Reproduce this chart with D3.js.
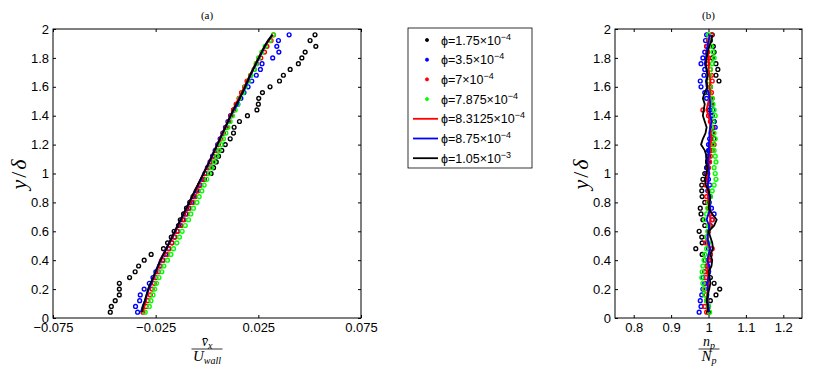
<!DOCTYPE html>
<html>
<head>
<meta charset="utf-8">
<script src="https://cdn.jsdelivr.net/npm/d3@7"></script>
<style>
  body { margin: 0; background: #fff; }
  svg { display: block; }
  .tick text { font-family: "Liberation Sans", Arial, sans-serif; font-size: 13px; fill: #000; }
  .tick line { stroke: #000; }
</style>
</head>
<body>
<div id="chart"></div>
<script>
// y/delta positions shared by every profile
var yPos = [0.04, 0.08, 0.12, 0.16, 0.20, 0.24, 0.28, 0.32, 0.36, 0.40,
  0.44, 0.48, 0.52, 0.56, 0.60, 0.64, 0.68, 0.72, 0.76, 0.80,
  0.84, 0.88, 0.92, 0.96, 1.00, 1.04, 1.08, 1.12, 1.16, 1.20,
  1.24, 1.28, 1.32, 1.36, 1.40, 1.44, 1.48, 1.52, 1.56, 1.60,
  1.64, 1.68, 1.72, 1.76, 1.80, 1.84, 1.88, 1.92, 1.96];

var seriesNames = ["1.75×10", "3.5×10", "7×10", "7.875×10", "8.3125×10", "8.75×10", "1.05×10"];
var seriesExp = ["−4", "−4", "−4", "−4", "−4", "−4", "−3"];
var seriesColors = ["#000000", "#0000ff", "#ff0000", "#00ff00", "#ff0000", "#0000ff", "#000000"];

// panel (a): mean velocity vx / Uwall
var velBlack = [-0.0471, -0.0466, -0.0447, -0.0427, -0.0427, -0.0427, -0.0377, -0.0350, -0.0333, -0.0306,
  -0.0272, -0.0212, -0.0192, -0.0174, -0.0160, -0.0139, -0.0130, -0.0114, -0.0100, -0.0084,
  -0.0068, -0.0052, -0.0036, -0.0012, 0.0020, 0.0032, 0.0045, 0.0056, 0.0072, 0.0089,
  0.0113, 0.0129, 0.0132, 0.0158, 0.0197, 0.0243, 0.0250, 0.0252, 0.0270, 0.0307,
  0.0353, 0.0372, 0.0405, 0.0445, 0.0462, 0.0478, 0.0530, 0.0502, 0.0526];
var velBlue = [-0.0338, -0.0348, -0.0328, -0.0325, -0.0306, -0.0281, -0.0263, -0.0249, -0.0231, -0.0216,
  -0.0202, -0.0187, -0.0171, -0.0158, -0.0145, -0.0130, -0.0117, -0.0103, -0.0090, -0.0075,
  -0.0062, -0.0049, -0.0036, -0.0022, -0.0010, 0.0002, 0.0015, 0.0027, 0.0040, 0.0052,
  0.0064, 0.0077, 0.0090, 0.0102, 0.0115, 0.0130, 0.0150, 0.0165, 0.0180, 0.0200,
  0.0218, 0.0240, 0.0260, 0.0268, 0.0320, 0.0350, 0.0340, 0.0348, 0.0400];
var velRed = [-0.0312, -0.0297, -0.0288, -0.0276, -0.0267, -0.0257, -0.0249, -0.0236, -0.0225, -0.0212,
  -0.0195, -0.0184, -0.0170, -0.0156, -0.0142, -0.0126, -0.0111, -0.0098, -0.0085, -0.0069,
  -0.0057, -0.0043, -0.0030, -0.0014, -0.0004, 0.0010, 0.0022, 0.0032, 0.0045, 0.0056,
  0.0068, 0.0080, 0.0094, 0.0107, 0.0118, 0.0129, 0.0142, 0.0156, 0.0168, 0.0183,
  0.0195, 0.0212, 0.0230, 0.0241, 0.0262, 0.0280, 0.0292, 0.0312, 0.0324];
var velGreen = [-0.0301, -0.0281, -0.0273, -0.0263, -0.0255, -0.0246, -0.0234, -0.0220, -0.0210, -0.0192,
  -0.0176, -0.0163, -0.0147, -0.0134, -0.0121, -0.0106, -0.0090, -0.0079, -0.0066, -0.0049,
  -0.0038, -0.0025, -0.0014, -0.0001, 0.0011, 0.0022, 0.0035, 0.0048, 0.0059, 0.0069,
  0.0080, 0.0092, 0.0102, 0.0113, 0.0124, 0.0137, 0.0149, 0.0158, 0.0175, 0.0186,
  0.0202, 0.0214, 0.0230, 0.0239, 0.0251, 0.0267, 0.0283, 0.0307, 0.0323];
var velLineRed = [-0.0312, -0.0305, -0.0298, -0.0292, -0.0283, -0.0272, -0.0260, -0.0250, -0.0236, -0.0230,
  -0.0214, -0.0198, -0.0185, -0.0171, -0.0157, -0.0143, -0.0129, -0.0115, -0.0101, -0.0087,
  -0.0074, -0.0060, -0.0046, -0.0032, -0.0018, -0.0004, 0.0010, 0.0023, 0.0036, 0.0049,
  0.0062, 0.0075, 0.0088, 0.0101, 0.0114, 0.0127, 0.0140, 0.0154, 0.0168, 0.0182,
  0.0195, 0.0209, 0.0223, 0.0236, 0.0250, 0.0265, 0.0282, 0.0302, 0.0322];
var velLineBlue = [-0.0322, -0.0314, -0.0302, -0.0294, -0.0284, -0.0270, -0.0262, -0.0252, -0.0240, -0.0227,
  -0.0213, -0.0199, -0.0185, -0.0171, -0.0157, -0.0143, -0.0129, -0.0115, -0.0101, -0.0087,
  -0.0073, -0.0059, -0.0045, -0.0031, -0.0017, -0.0003, 0.0011, 0.0024, 0.0037, 0.0050,
  0.0063, 0.0076, 0.0090, 0.0103, 0.0116, 0.0131, 0.0150, 0.0158, 0.0174, 0.0188,
  0.0200, 0.0212, 0.0226, 0.0240, 0.0254, 0.0268, 0.0282, 0.0298, 0.0318];
var velLineBlack = [-0.0317, -0.0312, -0.0303, -0.0295, -0.0287, -0.0276, -0.0262, -0.0250, -0.0238, -0.0226,
  -0.0212, -0.0197, -0.0184, -0.0170, -0.0156, -0.0142, -0.0128, -0.0114, -0.0100, -0.0086,
  -0.0073, -0.0059, -0.0045, -0.0031, -0.0017, -0.0003, 0.0011, 0.0024, 0.0037, 0.0050,
  0.0063, 0.0076, 0.0089, 0.0102, 0.0115, 0.0128, 0.0142, 0.0160, 0.0172, 0.0185,
  0.0197, 0.0210, 0.0224, 0.0238, 0.0252, 0.0266, 0.0280, 0.0297, 0.0318];

// panel (b): particle number density np / Np
var numBlack = [1.000, 1.000, 1.005, 1.020, 1.030, 1.015, 1.005, 1.000, 0.995, 0.990,
  0.983, 0.966, 0.983, 0.982, 0.975, 0.990, 0.985, 0.980, 0.978, 0.990,
  0.983, 0.982, 0.982, 0.985, 0.990, 0.995, 0.998, 1.000, 1.003, 1.008,
  1.015, 1.010, 1.012, 1.015, 1.010, 1.003, 1.010, 1.005, 1.000, 1.005,
  1.028, 1.020, 1.025, 1.020, 1.010, 1.015, 1.013, 1.005, 1.010];
var numBlue = [0.975, 0.980, 0.978, 0.982, 0.985, 0.990, 0.985, 0.990, 0.998, 1.002,
  1.005, 1.000, 0.997, 0.995, 1.000, 1.005, 1.010, 1.015, 1.008, 1.002,
  1.005, 0.998, 1.003, 1.000, 0.995, 0.997, 1.000, 0.998, 1.000, 1.000,
  1.003, 1.010, 1.018, 1.015, 1.008, 1.012, 1.005, 0.995, 0.990, 0.980,
  0.978, 0.988, 0.990, 0.980, 0.985, 0.990, 0.995, 0.992, 0.995];
var numRed = [0.995, 0.990, 0.995, 0.993, 0.990, 0.995, 0.993, 0.990, 0.995, 1.000,
  1.005, 1.010, 0.992, 0.995, 1.000, 1.005, 1.010, 1.005, 1.000, 0.998,
  0.995, 1.000, 0.993, 0.995, 0.998, 1.000, 1.003, 1.005, 1.010, 1.015,
  1.008, 1.012, 1.010, 1.005, 1.000, 0.985, 1.005, 1.010, 1.008, 1.005,
  1.010, 1.008, 1.005, 0.995, 1.000, 0.998, 0.995, 1.000, 1.008];
var numGreen = [1.003, 1.000, 0.995, 0.990, 0.988, 0.985, 0.982, 0.983, 0.985, 0.988,
  0.990, 0.995, 1.000, 0.995, 0.998, 1.000, 0.990, 0.995, 0.998, 1.000,
  1.005, 1.010, 1.015, 1.020, 1.018, 1.015, 1.020, 1.018, 1.015, 1.012,
  1.018, 1.015, 1.008, 1.012, 1.018, 1.015, 1.012, 1.010, 1.003, 1.005,
  1.000, 1.003, 1.005, 1.010, 1.015, 1.012, 1.008, 1.003, 1.000];
var numLineRed = [0.998, 0.997, 0.998, 0.997, 0.998, 1.000, 0.998, 0.997, 0.998, 1.000,
  1.002, 1.003, 0.997, 0.998, 1.000, 1.003, 1.005, 1.003, 1.002, 1.000,
  0.998, 1.000, 0.998, 0.997, 0.998, 1.000, 1.000, 1.002, 1.003, 1.005,
  1.008, 1.005, 1.005, 1.003, 1.000, 0.995, 0.998, 1.002, 1.005, 1.003,
  1.005, 1.003, 1.000, 1.002, 1.000, 0.998, 1.000, 1.000, 1.003];
var numLineBlue = [1.002, 1.000, 0.997, 1.000, 0.998, 0.997, 1.000, 1.005, 1.002, 0.997,
  1.000, 1.005, 1.000, 0.997, 1.000, 1.002, 0.995, 1.000, 1.005, 1.003,
  1.002, 1.000, 0.998, 1.000, 1.002, 1.000, 0.998, 1.000, 1.002, 1.000,
  1.003, 1.002, 1.005, 1.008, 1.005, 1.003, 1.005, 1.003, 1.000, 0.995,
  0.993, 0.997, 0.995, 0.990, 0.993, 0.995, 0.997, 1.000, 1.005];
var numLineBlack = [0.998, 0.998, 0.995, 0.998, 1.002, 1.005, 1.003, 1.000, 1.008, 1.010,
  1.005, 1.012, 1.010, 1.005, 1.000, 1.015, 1.022, 1.010, 1.000, 1.003,
  1.005, 1.000, 0.993, 0.990, 0.995, 0.997, 0.993, 0.995, 0.990, 0.980,
  0.985, 0.992, 0.995, 0.990, 0.985, 0.987, 0.990, 0.985, 0.990, 0.997,
  0.995, 0.998, 0.995, 0.993, 0.995, 0.998, 1.002, 1.008, 1.010];

var yTicks = [0, 0.2, 0.4, 0.6, 0.8, 1, 1.2, 1.4, 1.6, 1.8, 2];
var velTicks = [-0.075, -0.025, 0.025, 0.075];
var velTickLabels = ["−0.075", "−0.025", "0.025", "0.075"];
var numTicks = [0.8, 0.9, 1, 1.1, 1.2];
var numTickLabels = ["0.8", "0.9", "1", "1.1", "1.2"];

var width = 830;
var height = 372;

var svg = d3.select("#chart").
append("svg").
attr("width", width).
attr("height", height);

var serif = "\"Liberation Serif\", \"Times New Roman\", serif";

function makePanel(left, right, xDomain, xTicks, xLabels, title) {
  var top = 29;
  var bottom = 318;
  var x = d3.scaleLinear().domain(xDomain).range([left, right]);
  var y = d3.scaleLinear().domain([0, 2]).range([bottom, top]);

  svg.append("g").
  attr("transform", "translate(0," + bottom + ")").
  call(d3.axisBottom(x).tickValues(xTicks).tickSizeInner(-3).tickSizeOuter(0).tickPadding(5).
  tickFormat(function (d, i) {return xLabels[i];}));

  svg.append("g").
  attr("transform", "translate(0," + top + ")").
  call(d3.axisTop(x).tickValues(xTicks).tickSizeInner(-3).tickSizeOuter(0).tickFormat(""));

  svg.append("g").
  attr("transform", "translate(" + left + ",0)").
  call(d3.axisLeft(y).tickValues(yTicks).tickSizeInner(-3).tickSizeOuter(0).tickPadding(4).
  tickFormat(d3.format("~g")));

  svg.append("g").
  attr("transform", "translate(" + right + ",0)").
  call(d3.axisRight(y).tickValues(yTicks).tickSizeInner(-3).tickSizeOuter(0).tickFormat(""));

  svg.selectAll(".domain").remove();

  svg.append("rect").
  attr("x", left).
  attr("y", top).
  attr("width", right - left).
  attr("height", bottom - top).
  attr("fill", "none").
  attr("stroke", "#000").
  attr("stroke-width", 1);

  svg.append("text").
  text(title).
  attr("x", (left + right) / 2).
  attr("y", 19).
  attr("text-anchor", "middle").
  attr("font-family", serif).
  attr("font-size", 11);

  var yl = svg.append("text").
  attr("transform", "translate(" + (left - 27) + "," + ((top + bottom) / 2) + ") rotate(-90)").
  attr("text-anchor", "middle").
  attr("font-family", serif).
  attr("font-style", "italic").
  attr("font-size", 22).
  attr("letter-spacing", 2);
  yl.append("tspan").text("y");
  yl.append("tspan").text("/").attr("font-style", "normal");
  yl.append("tspan").text("δ");

  return {x: x, y: y};
}

function drawDots(p, values, color) {
  svg.append("g").
  selectAll("circle").
  data(values).
  enter().
  append("circle").
  attr("cx", function (d) {return p.x(d);}).
  attr("cy", function (d, i) {return p.y(yPos[i]);}).
  attr("r", 1.9).
  attr("fill", "none").
  attr("stroke", color).
  attr("stroke-width", 1.4);
}

function drawLine(p, values, color) {
  var line = d3.line().
  x(function (d) {return p.x(d);}).
  y(function (d, i) {return p.y(yPos[i]);});
  svg.append("path").
  datum(values).
  attr("d", line).
  attr("fill", "none").
  attr("stroke", color).
  attr("stroke-width", 1.8).
  attr("stroke-linejoin", "round");
}

function fraction(cx, numBase, numSub, denBase, denSub, bar) {
  var num = svg.append("text").
  attr("x", cx).
  attr("y", 346).
  attr("text-anchor", "middle").
  attr("font-family", serif).
  attr("font-style", "italic").
  attr("font-size", 14);
  num.append("tspan").text(numBase);
  num.append("tspan").text(numSub).attr("font-size", 10).attr("dy", 3);

  svg.append("line").
  attr("x1", cx - bar / 2).
  attr("x2", cx + bar / 2).
  attr("y1", 349).
  attr("y2", 349).
  attr("stroke", "#000").
  attr("stroke-width", 0.8);

  var den = svg.append("text").
  attr("x", cx).
  attr("y", 361).
  attr("text-anchor", "middle").
  attr("font-family", serif).
  attr("font-style", "italic").
  attr("font-size", 15);
  den.append("tspan").text(denBase);
  den.append("tspan").text(denSub).attr("font-size", 10).attr("dy", 3);
}

// panel (a)
var pa = makePanel(53, 361, [-0.075, 0.075], velTicks, velTickLabels, "(a)");
drawDots(pa, velBlack, seriesColors[0]);
drawDots(pa, velBlue, seriesColors[1]);
drawDots(pa, velRed, seriesColors[2]);
drawDots(pa, velGreen, seriesColors[3]);
drawLine(pa, velLineRed, seriesColors[4]);
drawLine(pa, velLineBlue, seriesColors[5]);
drawLine(pa, velLineBlack, seriesColors[6]);
fraction(207, "v\u0304", "x", "U", "wall", 31);

// panel (b)
var pb = makePanel(615, 802, [0.75, 1.25], numTicks, numTickLabels, "(b)");
drawDots(pb, numBlack, seriesColors[0]);
drawDots(pb, numBlue, seriesColors[1]);
drawDots(pb, numRed, seriesColors[2]);
drawDots(pb, numGreen, seriesColors[3]);
drawLine(pb, numLineRed, seriesColors[4]);
drawLine(pb, numLineBlue, seriesColors[5]);
drawLine(pb, numLineBlack, seriesColors[6]);
fraction(709, "n", "p", "N", "p", 21);

// legend
var legend = svg.append("g");
legend.append("rect").
attr("x", 408).
attr("y", 28).
attr("width", 124).
attr("height", 140).
attr("fill", "#fff").
attr("stroke", "#000").
attr("stroke-width", 0.8);

seriesNames.forEach(function (name, i) {
  var rowY = 40 + i * 19.7;
  if (i < 4) {
    legend.append("circle").
    attr("cx", 427).
    attr("cy", rowY).
    attr("r", 1.6).
    attr("fill", seriesColors[i]).
    attr("stroke", seriesColors[i]).
    attr("stroke-width", 0.8);
  } else {
    legend.append("line").
    attr("x1", 413).
    attr("x2", 438).
    attr("y1", rowY).
    attr("y2", rowY).
    attr("stroke", seriesColors[i]).
    attr("stroke-width", 1.8);
  }
  var t = legend.append("text").
  attr("x", 441).
  attr("y", rowY + 4.5).
  attr("font-family", "\"Liberation Sans\", Arial, sans-serif").
  attr("font-size", 12.5);
  t.append("tspan").text("ϕ=" + name);
  t.append("tspan").text(seriesExp[i]).attr("font-size", 9).attr("dy", -5);
});
</script>
</body>
</html>
